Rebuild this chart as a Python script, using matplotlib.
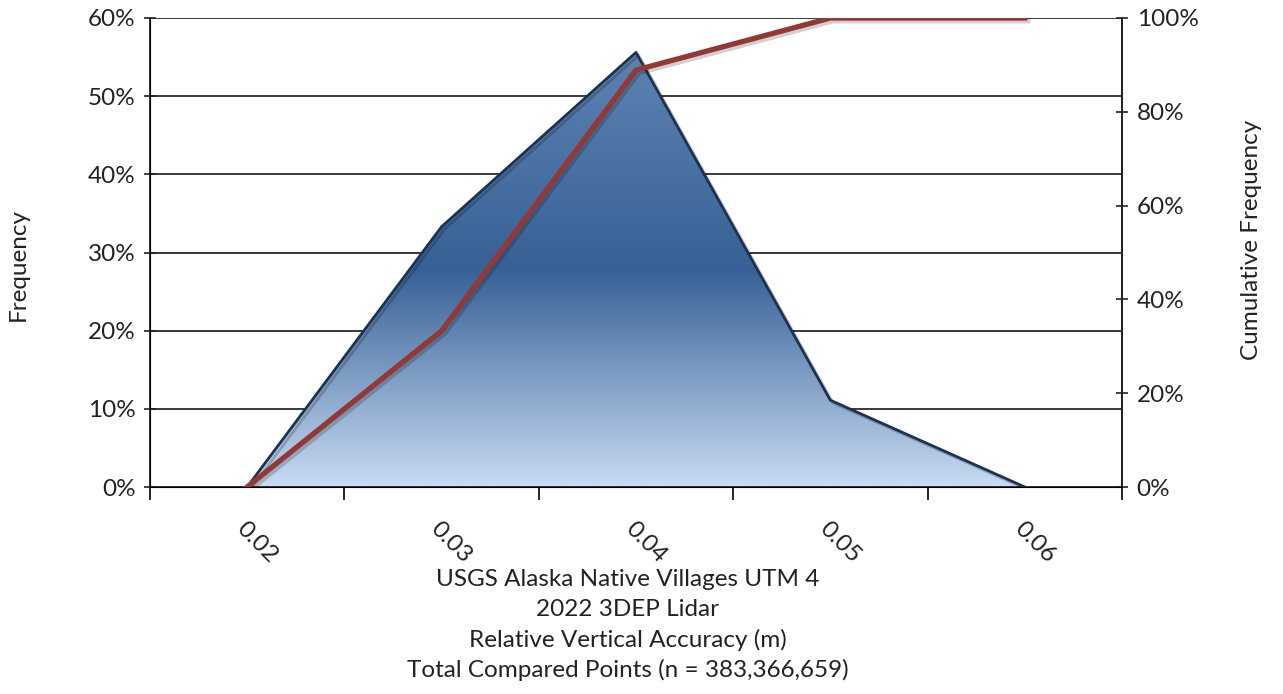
import numpy as np
import matplotlib
matplotlib.use("Agg")
import matplotlib.pyplot as plt
from matplotlib.colors import LinearSegmentedColormap
from matplotlib.patches import Polygon
from matplotlib.ticker import PercentFormatter, FixedLocator
import matplotlib.patheffects as pe

plt.rcParams['font.family'] = ['Lato', 'DejaVu Sans']

categories = ["0.02", "0.03", "0.04", "0.05", "0.06"]
frequency = [0.0, 33.3, 55.6, 11.1, 0.0]
cumulative = [0.0, 33.3, 88.9, 100.0, 100.0]
y_ticks_left = [0, 10, 20, 30, 40, 50, 60]
y_ticks_right = [0, 20, 40, 60, 80, 100]
xlabel_lines = ["USGS Alaska Native Villages UTM 4", "2022 3DEP Lidar",
                "Relative Vertical Accuracy (m)",
                "Total Compared Points (n = 383,366,659)"]

FS = 17.5
W, H = 1283, 694
fig = plt.figure(figsize=(W / 100, H / 100), dpi=100)
ax = fig.add_axes([150 / W, 1 - 487 / H, (1122 - 150) / W, (487 - 18) / H])
x = np.arange(len(categories))

ax.set_xlim(-0.5, len(categories) - 0.5)
ax.set_ylim(0, 60)

# gridlines
for t in y_ticks_left[1:]:
    ax.axhline(t, color='#3a3a3a', lw=1.4, zorder=1)

# gradient fill clipped to polygon
verts = list(zip(x, frequency)) + [(x[-1], 0), (x[0], 0)]
poly = Polygon(verts, closed=True, facecolor='none', edgecolor='none')
ax.add_patch(poly)
cmap = LinearSegmentedColormap.from_list('g', [(0, '#c8dbf2'), (0.5, '#376196'), (1.0, '#5e83b2')])
grad = np.linspace(0, 1, 256).reshape(-1, 1)
ymax = max(frequency)
im = ax.imshow(grad, cmap=cmap, origin='lower', aspect='auto',
               extent=[x[0], x[-1], 0, ymax], zorder=2)
im.set_clip_path(poly)
ax.plot(x, frequency, color='#1c3250', lw=2.0, zorder=3,
        path_effects=[pe.SimpleLineShadow(offset=(2, -2), alpha=0.2), pe.Normal()])

ax.set_yticks(y_ticks_left)
ax.yaxis.set_major_formatter(PercentFormatter(decimals=0))
ax.tick_params(axis='y', direction='inout', length=9, width=1.2, labelsize=FS, pad=6, colors='#222222')

ax.xaxis.set_major_locator(FixedLocator(np.arange(-0.5, len(categories), 1.0)))
ax.set_xticklabels([])
ax.xaxis.set_minor_locator(FixedLocator(x))
ax.set_xticklabels(categories, minor=True, rotation=-45, ha='left', va='top', rotation_mode='anchor')
ax.tick_params(axis='x', which='major', direction='out', length=9, width=1.2)
ax.tick_params(axis='x', which='minor', length=0, labelsize=FS, pad=22, colors='#222222')

ax.spines['top'].set_visible(False)
for s in ['left', 'right', 'bottom']:
    ax.spines[s].set_linewidth(1.3)
    ax.spines[s].set_color('#222222')

ax2 = ax.twinx()
ax2.set_ylim(0, 100)
ax2.plot(x, cumulative, color='#953735', lw=3.8, zorder=5, solid_joinstyle='miter',
         path_effects=[pe.SimpleLineShadow(offset=(2, -2), alpha=0.18), pe.Normal()])
ax2.set_yticks(y_ticks_right)
ax2.yaxis.set_major_formatter(PercentFormatter(decimals=0))
ax2.tick_params(axis='y', direction='inout', length=9, width=1.2, labelsize=FS, pad=6, colors='#222222')
ax2.spines['top'].set_visible(False)
ax2.spines['right'].set_linewidth(1.3)
ax2.spines['right'].set_color('#222222')

fig.text(18 / W, 1 - 265 / H, "Frequency", rotation=90, ha='center', va='center', fontsize=FS, color='#222222')
fig.text(1252 / W, 1 - 240 / H, "Cumulative Frequency", rotation=90, ha='center', va='center', fontsize=FS, color='#222222')
for i, line in enumerate(xlabel_lines):
    fig.text(628 / W, 1 - (580 + 30 * i) / H, line, ha='center', va='center', fontsize=FS, color='#222222')

fig.savefig('out.png', dpi=100)
